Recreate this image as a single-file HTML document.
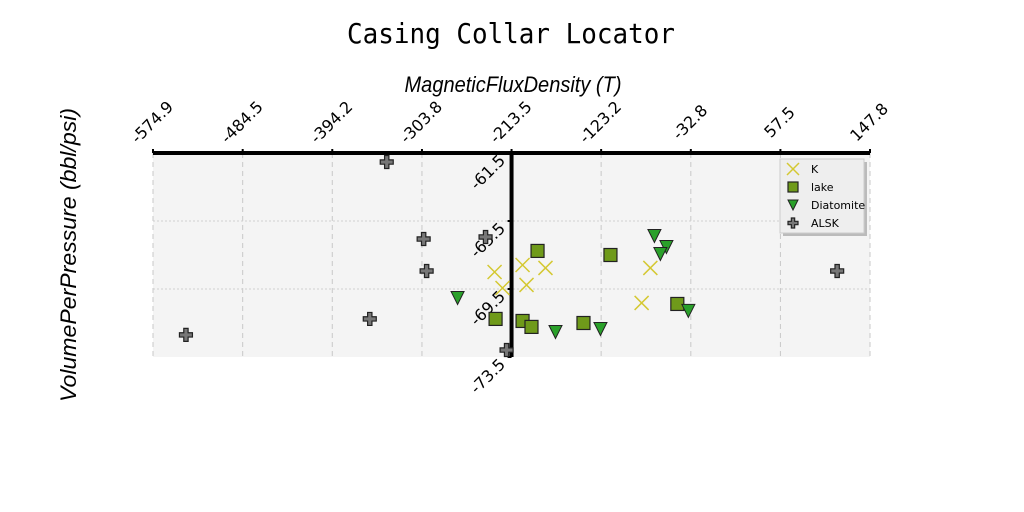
<!DOCTYPE html>
<html><head><meta charset="utf-8"><style>
body{margin:0;background:#fff}
svg{display:block}
</style></head><body>
<svg id="chart" width="1024" height="512" viewBox="0 0 1024 512" xmlns="http://www.w3.org/2000/svg">
<text x="511" y="43" text-anchor="middle" font-family="DejaVu Sans Mono, Liberation Mono, monospace" font-size="28" textLength="328" lengthAdjust="spacingAndGlyphs">Casing Collar Locator</text>
<text x="513" y="92" text-anchor="middle" font-family="Liberation Sans, sans-serif" font-style="italic" font-size="22" textLength="217" lengthAdjust="spacingAndGlyphs">MagneticFluxDensity (T)</text>
<text transform="translate(76,255) rotate(-90)" text-anchor="middle" font-family="Liberation Sans, sans-serif" font-style="italic" font-size="22" textLength="294" lengthAdjust="spacingAndGlyphs">VolumePerPressure (bbl/psi)</text>
<rect x="153" y="153" width="717" height="204" fill="#f4f4f4"/>
<g id="grid"></g><g id="ticks"></g><g id="marks"></g>
<g id="legend"></g>
</svg>
<script>
const xTicks=[-574.9,-484.5,-394.2,-303.8,-213.5,-123.2,-32.8,57.5,147.8];
const yTicks=[-61.5,-65.5,-69.5,-73.5];
const kX=[-230.6,-222.6,-202.4,-198.4,-179.3,-73.6,-82.4];
const kY=[-68.5,-69.44,-68.09,-69.26,-68.26,-68.26,-70.32];
const lakeX=[-187.3,-113.8,-229.6,-202.4,-193.4,-141.0,-46.4];
const lakeY=[-67.26,-67.5,-71.26,-71.38,-71.73,-71.5,-70.38];
const diatX=[-267.9,-69.5,-57.4,-63.5,-169.2,-123.9,-35.3];
const diatY=[-70.03,-66.38,-67.03,-67.44,-72.03,-71.85,-70.79];
const alskX=[-339.3,-302.1,-299.1,-239.7,-356.4,-541.7,114.7,-218.5];
const alskY=[-62.03,-66.56,-68.44,-66.44,-71.26,-72.2,-68.44,-73.09];
const X0=153,X1=870,Y0=153,Y1=357;
const xs=v=>X0+(v-(-574.9))/(147.8-(-574.9))*(X1-X0);
const ys=v=>Y0+(v-(-61.5))/(-73.5-(-61.5))*(Y1-Y0);
const NS='http://www.w3.org/2000/svg';
function mk(tag,attrs,parent){const e=document.createElementNS(NS,tag);for(const k in attrs)e.setAttribute(k,attrs[k]);parent.appendChild(e);return e;}
const grid=document.getElementById('grid'),ticks=document.getElementById('ticks'),marks=document.getElementById('marks');
xTicks.forEach(t=>{const x=xs(t);
 const g=mk('line',{x1:x,x2:x,y1:Y0,y2:Y1,stroke:'#c8c8c8','stroke-dasharray':'5,4','stroke-width':1},grid);
 
 
 const tk=mk('line',{x1:x,x2:x,y1:Y0-4,y2:Y0,stroke:'#000','stroke-width':2},ticks);
 
 
 const tx=mk('text',{transform:`translate(${x+3},${Y0-27}) rotate(-45)`,'text-anchor':'middle','font-family':'DejaVu Sans, sans-serif','font-size':16},ticks);
 tx.textContent=t.toFixed(1);
 
 
});
yTicks.forEach(t=>{const y=ys(t);
 if(t!==yTicks[0]&&t!==yTicks[yTicks.length-1]){const g=mk('line',{x1:X0,x2:X1,y1:y,y2:y,stroke:'#cfcfcf','stroke-dasharray':'2,2','stroke-width':1},grid);
 
 }
 const tk=mk('line',{x1:xs(-213.5)-4,x2:xs(-213.5),y1:y,y2:y,stroke:'#000','stroke-width':2},ticks);
 
 
 const tx=mk('text',{transform:`translate(${xs(-213.5)-20},${y+23}) rotate(-45)`,'text-anchor':'middle','font-family':'DejaVu Sans, sans-serif','font-size':16},ticks);
 tx.textContent=t.toFixed(1);
 
 
});
const sp1=mk('line',{x1:X0,x2:X1,y1:Y0,y2:Y0,stroke:'#000','stroke-width':4},ticks);


const sp2=mk('line',{x1:xs(-213.5),x2:xs(-213.5),y1:Y0,y2:Y1,stroke:'#000','stroke-width':4},ticks);


function drawX(x,y,p,s){mk('path',{d:`M${x-s},${y-s}L${x+s},${y+s}M${x-s},${y+s}L${x+s},${y-s}`,stroke:'#d4c832','stroke-width':1.5,fill:'none'},p);}
function drawSq(x,y,p,s){mk('rect',{x:x-s,y:y-s,width:2*s,height:2*s,fill:'#6f9a1a',stroke:'#222','stroke-width':1.2},p);}
function drawTri(x,y,p,s){mk('path',{d:`M${x-s},${y-s}L${x+s},${y-s}L${x},${y+s}Z`,fill:'#2aa02a',stroke:'#222','stroke-width':1},p);}
function drawPlus(x,y,p,s){const a=s/3;mk('path',{d:`M${x-a},${y-s}h${2*a}v${2*a}h${2*a}v${2*a}h${-2*a}v${2*a}h${-2*a}v${-2*a}h${-2*a}v${-2*a}h${2*a}Z`,fill:'#777',stroke:'#222','stroke-width':1.2},p);}
const series=[[kX,kY,drawX,7,'k-point'],[lakeX,lakeY,drawSq,6.5,'lake-point'],[diatX,diatY,drawTri,6.5,'diatomite-point'],[alskX,alskY,drawPlus,6.5,'alsk-point']];
series.forEach(([sx,sy,fn,s,name])=>{sx.forEach((v,i)=>{const g=mk('g',{},marks);
 
 
 fn(xs(v),ys(sy[i]),g,s);});});
const lg=document.getElementById('legend');
mk('rect',{x:783,y:162,width:84,height:74,fill:'#bbb'},lg);
mk('rect',{x:780,y:159,width:84,height:74,fill:'#eee',stroke:'#ccc'},lg);
const labels=['K','lake','Diatomite','ALSK'];
[drawX,drawSq,drawTri,drawPlus].forEach((fn,i)=>{const y=169+i*18;const g=mk('g',{},lg);
 
 
 fn(793,y,g,i==0?6:5);
 const t=mk('text',{x:811,y:y+4,'font-family':'DejaVu Sans, sans-serif','font-size':11},g);t.textContent=labels[i];});
</script>
</body></html>
